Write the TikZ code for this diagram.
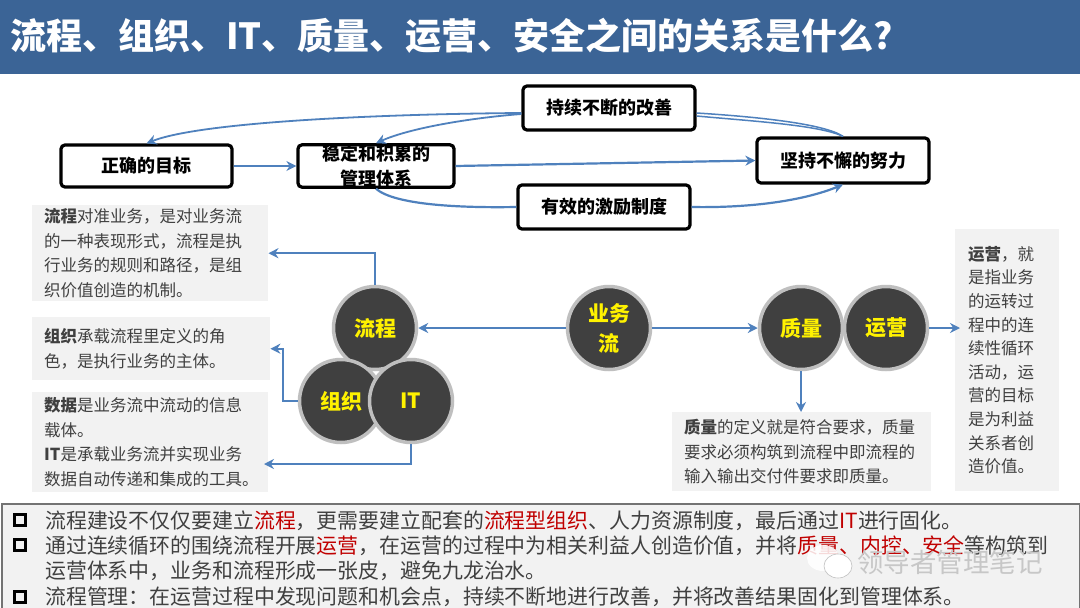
\documentclass[tikz,border=0pt]{standalone}
\usepackage{fontspec}
\setmainfont{Noto Sans CJK SC}
\usetikzlibrary{arrows.meta,backgrounds}
\definecolor{titleblue}{HTML}{3B6496}
\definecolor{linkblue}{HTML}{4F81BD}
\definecolor{softgray}{HTML}{F2F2F2}
\definecolor{bodytext}{HTML}{404040}
\definecolor{ringgray}{HTML}{BFBFBF}
\definecolor{redtext}{HTML}{C00000}
\tikzset{
  keybox/.style={draw=black,fill=white,line width=3.2pt,rounded corners=4pt,minimum width=170pt,minimum height=42pt,inner sep=0pt,align=center,font=\fontsize{18}{25}\selectfont\bfseries},
  graybox/.style={fill=softgray,inner xsep=12pt,inner ysep=0pt,anchor=north west,align=left,text=bodytext,font=\fontsize{16.5}{24.4}\selectfont},
  ball/.style={circle,draw=ringgray,fill=bodytext,line width=3.5pt,minimum size=83pt,inner sep=0pt,text=yellow,align=center,font=\fontsize{21}{30}\selectfont\bfseries},
  link/.style={draw=linkblue,line width=2.2pt},
  linkarrow/.style={link,-{Stealth[length=10pt,width=10pt]}},
  guide/.style={draw=linkblue,line width=0.7pt,dashed},
  bullet/.style={draw=black,fill=softgray,line width=2.8pt,minimum size=10.5pt,inner sep=0pt},
  noteline/.style={anchor=west,inner sep=0pt,text=bodytext,font=\fontsize{20.9}{24}\selectfont},
}
\newcommand{\redw}[1]{\textcolor{redtext}{#1}}
\begin{document}
\begin{tikzpicture}[x=1pt,y=-1pt]
\useasboundingbox (0,0) rectangle (1080,608);
\fill[white] (0,0) rectangle (1080,608);
\node[fill=titleblue,minimum width=1080pt,minimum height=74pt,inner sep=0pt,anchor=north west] (titlebar) at (0,0) {};
\node[anchor=west,inner sep=0pt,text=white,font=\fontsize{36}{40}\selectfont\bfseries] (titletext) at (10,36) {流程、组织、IT、质量、运营、安全之间的关系是什么?};

% key boxes
\node[keybox,minimum width=171pt] (zhengque) at (146.5,166) {正确的目标};
\node[keybox,minimum width=156pt] (wending) at (376,166) {稳定和积累的\\管理体系};
\node[keybox,minimum width=172pt,minimum height=44pt] (chixu) at (609,108) {持续不断的改善};
\node[keybox,minimum width=172pt,minimum height=45pt] (jianchi) at (843,160.5) {坚持不懈的努力};
\node[keybox,minimum width=172pt,minimum height=44pt] (youxiao) at (604,207) {有效的激励制度};

% gray notes
\node[graybox,text width=212pt,minimum height=96pt] (noteA) at (32,205) {\textbf{流程}对准业务，是对业务流\\的一种表现形式，流程是执\\行业务的规则和路径，是组\\织价值创造的机制。};
\node[graybox,text width=214pt,minimum height=63pt] (noteB) at (32,317) {\textbf{组织}承载流程里定义的角\\色，是执行业务的主体。};
\node[graybox,text width=212pt,minimum height=100pt] (noteC) at (32,392) {\textbf{数据}是业务流中流动的信息\\载体。\\\textbf{IT}是承载业务流并实现业务\\数据自动传递和集成的工具。};
\node[graybox,text width=235pt,minimum height=79pt] (noteD) at (672,412) {\textbf{质量}的定义就是符合要求，质量\\要求必须构筑到流程中即流程的\\输入输出交付件要求即质量。};
\node[graybox,text width=78pt,inner xsep=13pt,minimum height=262pt,font=\fontsize{16.5}{23.6}\selectfont] (noteE) at (955,229) {\textbf{运营}，就\\是指业务\\的运转过\\程中的连\\续性循环\\活动，运\\营的目标\\是为利益\\关系者创\\造价值。};

% circles
\node[ball] (liucheng) at (375,328) {流程};
\node[ball] (zuzhi) at (341,401) {组织};
\node[ball] (itball) at (411,401) {IT};
\node[ball] (yewu) at (609,328) {业务\\流};
\node[ball] (zhiliang) at (801,328) {质量};
\node[ball] (yunying) at (886,328) {运营};

% dashed guides
\begin{scope}[on background layer]
\draw[guide] (wending.south west) -- (wending.south west |- zuzhi.center);
\draw[guide] (wending.south east) -- (wending.south east |- itball.center);
\draw[guide] (jianchi.south west) -- (jianchi.south west |- zhiliang.center);
\draw[guide] (jianchi.south east) -- (jianchi.south east |- yunying.center);
\end{scope}

% connectors between key boxes
\draw[linkarrow] (zhengque.east) -- (wending.west);
\draw[linkarrow] (wending.east) -- (jianchi.west);
\draw[linkarrow,line width=1.8pt] ([yshift=-5pt]chixu.west) .. controls (380,114) and (200,122) .. (zhengque.north);
\draw[linkarrow,line width=1.8pt] ([yshift=-6pt]chixu.west) .. controls (470,118) and (410,128) .. (wending.north);
\draw[link,line width=1.5pt] ([yshift=-5pt]chixu.east) .. controls (760,117) and (825,124) .. (jianchi.north);
\draw[link,line width=1.5pt] ([yshift=-8pt]chixu.east) .. controls (750,121) and (820,125) .. (jianchi.north);
\draw[link] (wending.south) .. controls (395,205) and (460,208) .. (youxiao.west);
\draw[linkarrow] (youxiao.east) .. controls (745,208) and (800,202) .. (jianchi.south);

% connectors from circles
\coordinate (itend) at (264,464);
\coordinate (zuzhibend) at (283,401);
\draw[linkarrow] (liucheng.north) |- (noteA.east);
\draw[linkarrow] (zuzhi.west) -- (zuzhibend) |- (noteB.east);
\draw[linkarrow] (itball.south) |- (itend);
\draw[linkarrow] (yewu.west) -- (liucheng.east);
\draw[linkarrow] (yewu.east) -- (zhiliang.west);
\draw[linkarrow] (zhiliang.south) -- (zhiliang.south |- noteD.north);
\coordinate (yunyingend) at (960,328);
\draw[linkarrow] (yunying.east) -- (yunyingend);

% bottom panel
\node[draw=black!55,fill=softgray,line width=2pt,minimum width=1078pt,minimum height=105pt,inner sep=0pt,anchor=north west] (panel) at (1,503) {};
\node[bullet] (b1) at (20,520) {};
\node[bullet] (b2) at (20,545) {};
\node[bullet] (b3) at (20,597) {};
\node[noteline] (l1) at (45,521) {流程建设不仅仅要建立\redw{流程}，更需要建立配套的\redw{流程型组织}、人力资源制度，最后通过\redw{IT}进行固化。};
\node[noteline] (l2) at (45,546) {通过连续循环的围绕流程开展\redw{运营}，在运营的过程中为相关利益人创造价值，并将\redw{质量、内控、安全}等构筑到};
\node[noteline] (l3) at (45,571) {运营体系中，业务和流程形成一张皮，避免九龙治水。};
\node[noteline] (l4) at (45,597) {流程管理：在运营过程中发现问题和机会点，持续不断地进行改善，并将改善结果固化到管理体系。};

% watermark
\fill[white,opacity=.85] (823,558) ellipse (16pt and 13pt);
\fill[white,draw=black!25,line width=.6pt] (838,566) ellipse (14pt and 12pt);
\node[anchor=west,inner sep=0pt,text=black!22,font=\fontsize{26.5}{30}\selectfont] (wm) at (857,562) {领导者管理笔记};
\end{tikzpicture}
\end{document}
